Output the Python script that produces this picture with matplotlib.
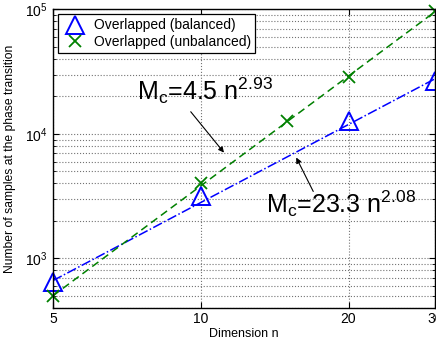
import matplotlib
matplotlib.use("Agg")
import matplotlib.pyplot as plt
from matplotlib.ticker import FixedLocator, NullFormatter, LogLocator

plt.rcParams['font.family'] = ['Liberation Sans', 'DejaVu Sans']
plt.rcParams['mathtext.fontset'] = 'custom'
plt.rcParams['mathtext.rm'] = 'Liberation Sans'
plt.rcParams['mathtext.it'] = 'Liberation Sans'

# measured points
n_bal = [5, 10, 20, 30]
m_bal = [645, 3150, 12600, 26500]
n_unbal = [5, 10, 15, 20, 30]
m_unbal = [498, 4050, 12600, 28500, 97000]

# fitted power laws (end points of straight line on log-log)
fit_n = [5, 30]
fit_bal = [664, 27700]
fit_unbal = [502, 95700]

xticks = [5, 10, 20, 30]

fig = plt.figure(figsize=(4.36, 3.48), dpi=100)
ax = fig.add_axes([0.1216, 0.115, 0.876, 0.858])

ax.plot(fit_n, fit_bal, color='b', ls='-.', lw=1.1)
ax.plot(fit_n, fit_unbal, color=(0, 0.5, 0), ls='--', lw=1.1, dashes=(5, 3))
ax.plot(n_bal, m_bal, ls='none', marker='^', ms=13, mfc='none', mec='b', mew=1.4,
        label='Overlapped (balanced)', clip_on=False)
ax.plot(n_unbal, m_unbal, ls='none', marker='x', ms=8, mec=(0, 0.5, 0), mew=1.3,
        label='Overlapped (unbalanced)', clip_on=False)

ax.set_xscale('log')
ax.set_yscale('log')
ax.set_xlim(5, 30)
ax.set_ylim(400, 1e5)
ax.xaxis.set_major_locator(FixedLocator(xticks))
ax.xaxis.set_minor_locator(FixedLocator([]))
ax.set_xticklabels([str(t) for t in xticks])
ax.xaxis.set_minor_formatter(NullFormatter())
ax.yaxis.set_major_locator(LogLocator(base=10))
ax.yaxis.set_minor_locator(LogLocator(base=10, subs=range(2, 10)))
ax.yaxis.set_minor_formatter(NullFormatter())

ax.grid(True, which='major', ls=':', color='0.45', lw=0.8)
ax.grid(True, which='minor', axis='y', ls=':', color='0.45', lw=0.8)
ax.tick_params(which='both', direction='in', top=True, right=True, labelsize=10)
ax.tick_params(axis='x', pad=3)
ax.tick_params(axis='y', pad=4)
ax.tick_params(which='major', length=4)
ax.tick_params(which='minor', length=2)
for s in ax.spines.values():
    s.set_linewidth(1.0)

ax.set_xlabel('Dimension n', fontsize=9, labelpad=1)
ax.set_ylabel('Number of samples at the phase transition', fontsize=8.7, labelpad=6)

leg = ax.legend(loc='upper left', fontsize=10, frameon=True, fancybox=False,
                edgecolor='k', framealpha=1, borderpad=0.3, handletextpad=0.5,
                labelspacing=0.2, borderaxespad=0.35, handlelength=1.8)
leg.get_frame().set_linewidth(0.9)

ax.text(7.43, 18800, r'M$_\mathregular{c}$=4.5 n$^\mathregular{2.93}$', fontsize=18, va='baseline')
ax.text(13.59, 2340, r'M$_\mathregular{c}$=23.3 n$^\mathregular{2.08}$', fontsize=18, va='baseline')

arrow = dict(arrowstyle='-|>', color='k', lw=0.8, mutation_scale=8, shrinkA=0, shrinkB=0)
ax.annotate('', xy=(11.15, 7080), xytext=(9.54, 15070), arrowprops=arrow)
ax.annotate('', xy=(15.65, 6460), xytext=(16.95, 3450), arrowprops=arrow)

fig.savefig('out.png', dpi=100)
